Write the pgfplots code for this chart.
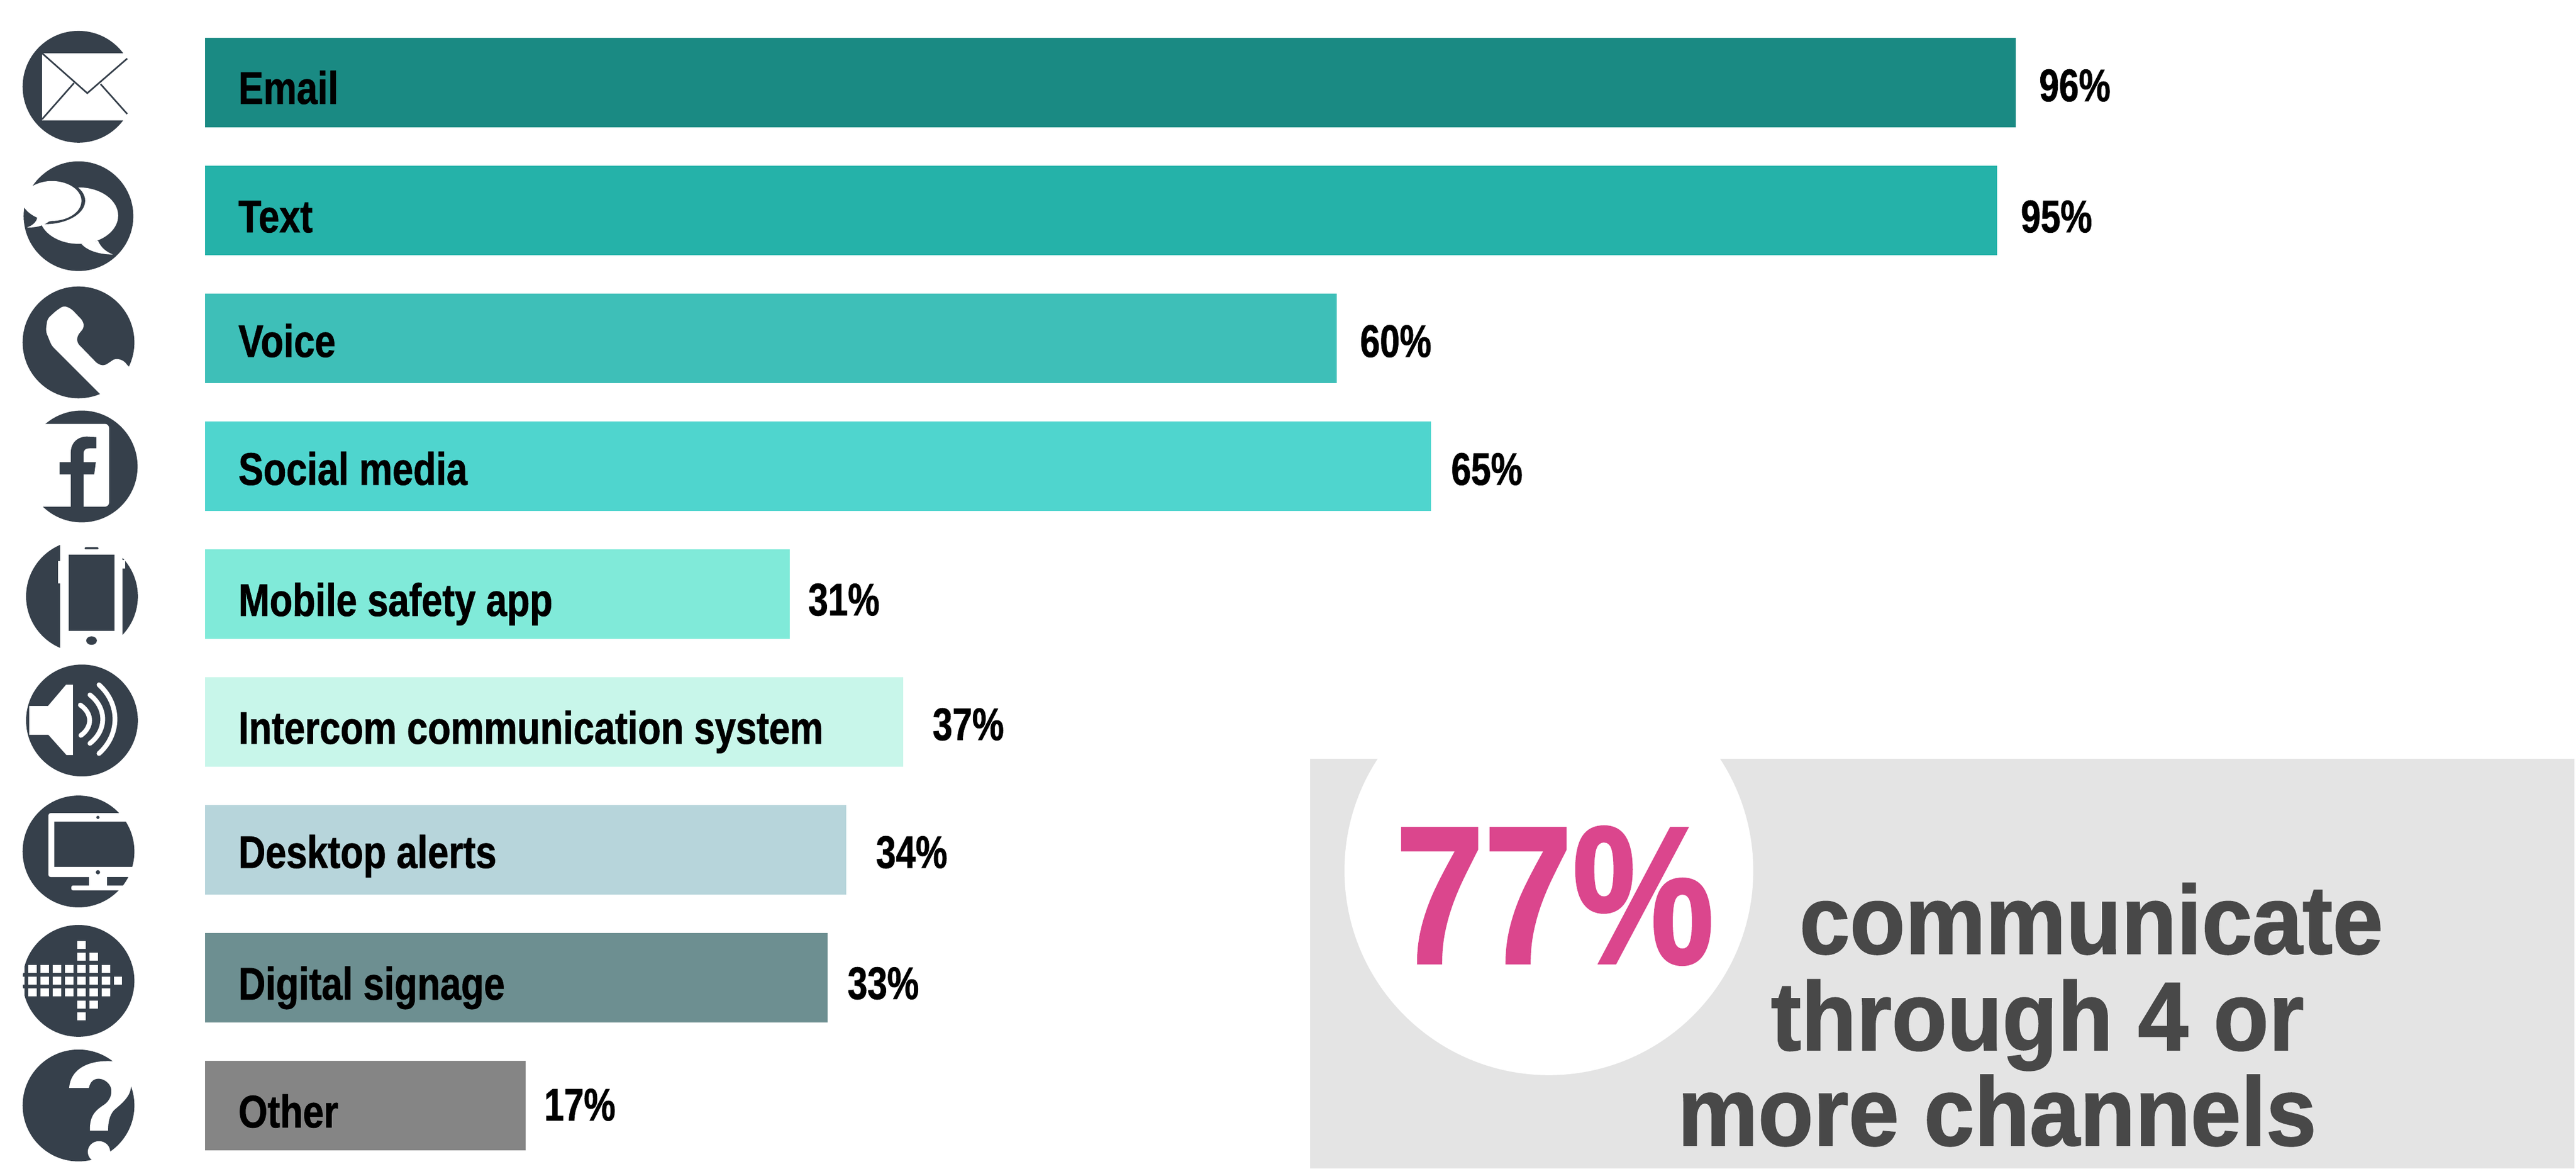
\documentclass[border=0pt]{standalone}
\usepackage{fontspec}
\usepackage{pgfplots}
\pgfplotsset{compat=1.18}
\setmainfont{Liberation Sans}
\newfontfamily\narrowfont[FakeStretch=0.82, BoldFeatures={FakeBold=1}]{Liberation Sans}
\newfontfamily\digitfont[FakeStretch=0.78, BoldFeatures={FakeBold=1}]{Liberation Sans}
\newfontfamily\panelfont[FakeStretch=0.93, BoldFeatures={FakeBold=1.2}]{Liberation Sans}
\newfontfamily\bigfont[FakeStretch=0.81, BoldFeatures={FakeBold=1.2}]{Liberation Sans}

\definecolor{cEmail}{HTML}{1A8A83}
\definecolor{cText}{HTML}{25B2A9}
\definecolor{cVoice}{HTML}{3EBFB8}
\definecolor{cSocial}{HTML}{4FD5CE}
\definecolor{cMobile}{HTML}{80EAD9}
\definecolor{cIntercom}{HTML}{C8F6EA}
\definecolor{cDesktop}{HTML}{B7D5DB}
\definecolor{cSignage}{HTML}{6D8F91}
\definecolor{cOther}{HTML}{858585}
\definecolor{icon}{HTML}{36404B}
\definecolor{panel}{HTML}{E4E4E4}
\definecolor{pink}{HTML}{DB468D}
\definecolor{panelText}{HTML}{484848}

% one bar: colour, row, value, gap to the value label, baseline below bar centre (reference pixels)
\newcommand{\catbar}[5]{%
  \addplot[xbar, fill=#1, draw=none, point meta=x,
    nodes near coords={\pgfmathprintnumber{\pgfplotspointmeta}\%},
    nodes near coords style={anchor=base west, inner sep=0pt, text=black,
      font=\digitfont\bfseries\fontsize{24.4}{28}\selectfont,
      xshift=#4*0.01cm, yshift=-#5*0.01cm}]
    coordinates {(#3,#2)};
}
% category name inside a bar: row, name, baseline below bar centre
\newcommand{\catlabel}[3]{%
  \addplot[draw=none, mark=none, point meta=explicit symbolic,
    nodes near coords,
    nodes near coords style={anchor=base west, inner sep=0pt, text=black,
      font=\narrowfont\bfseries\fontsize{24.4}{28}\selectfont,
      xshift=0.62cm, yshift=-#3*0.01cm}]
    coordinates {(0,#1) [#2]};
}

\begin{document}
\begin{tikzpicture}
\path[use as bounding box] (0,0) rectangle (48.37,21.94);

% coordinates in this scope are reference pixels, y downwards
\begin{scope}[x=0.01cm, y=-0.01cm, yshift=21.94cm]
  \fill[panel] (2461,1425) rectangle (4837,2194);
  \begin{scope}
    \clip (2461,1425) rectangle (4837,2194);
    \fill[white] (2910,1635) circle[radius=384];
  \end{scope}

  % email
  \fill[icon] (147.5,163) circle[radius=105];
  \fill[white] (79,100) rectangle (253,226);
  \draw[icon, line width=3*0.01cm] (79,100) -- (164,175) -- (239,110);
  \draw[icon, line width=3*0.01cm] (79,224) -- (139,156);
  \draw[icon, line width=3*0.01cm] (239,214) -- (189,158);

  % speech bubbles
  \fill[icon] (147.5,406) circle[radius=103];
  \fill[white] (148,405) ellipse[x radius=74, y radius=53];
  \fill[white] (184,452) .. controls (190,465) and (198,472) .. (212,478)
     .. controls (190,478) and (165,472) .. (153,458) -- cycle;
  \begin{scope}
    \clip (147.5,406) circle[radius=103];
    \fill[icon] (84,377) ellipse[x radius=76, y radius=44];
  \end{scope}
  \fill[white] (30,352) -- (60,350) .. controls (72,343) and (85,340) .. (97,340)
     .. controls (130,340) and (153,358) .. (153,377)
     .. controls (153,400) and (125,415) .. (97,415) -- (92,416)
     .. controls (80,425) and (65,428) .. (51,427)
     .. controls (60,424) and (68,418) .. (70,409)
     .. controls (60,404) and (50,398) .. (43,386) -- (30,386) -- cycle;

  % telephone
  \fill[icon] (147.5,643) circle[radius=105];
  \fill[white, rounded corners=6*0.01cm] (105,584) -- (120,574) -- (134,580) -- (156,603)
     -- (158,615) -- (145,631) -- (145,644) -- (184,684) -- (196,687) -- (217,673)
     -- (232,677) -- (242,689) -- (265,708) -- (230,778) -- (188,740) -- (97,649)
     -- (86,622) -- (89,599) -- cycle;

  % facebook
  \fill[icon] (153.5,876) circle[radius=105];
  \fill[white, rounded corners=8*0.01cm] (40,796) -- (205,796) -- (205,951.5) -- (40,951.5) -- cycle;
  \fill[icon] (133,951.5) -- (133,891) -- (112,891) -- (112,868) -- (133,868) -- (133,850)
     .. controls (133,830) and (148,819) .. (165,820) -- (181,821) -- (181,842) -- (168,842)
     .. controls (160,842) and (157,845) .. (157,853) -- (157,868) -- (180,868) -- (177,891)
     -- (157,891) -- (157,951.5) -- cycle;

  % mobile
  \fill[icon] (154,1120) circle[radius=105];
  \fill[white, rounded corners=8*0.01cm] (113,1012) rectangle (230,1228);
  \fill[white] (109,1054) rectangle (114,1096);
  \fill[white] (229,1052) rectangle (235,1068);
  \fill[icon] (129,1042) rectangle (215,1185);
  \fill[icon] (172,1203) ellipse[x radius=10, y radius=8];
  \draw[icon, line width=4*0.01cm, line cap=round] (161,1030) -- (183,1030);

  % speaker
  \fill[icon] (154,1353) circle[radius=105];
  \fill[white] (55,1326) -- (90,1326) -- (124,1286) -- (137,1286) -- (137,1418) -- (125,1418)
     -- (91,1380) -- (55,1380) -- cycle;
  \draw[white, line width=9*0.01cm, line cap=round] (151,1324) .. controls (174,1340) and (174,1365) .. (152,1381);
  \draw[white, line width=9*0.01cm, line cap=round] (169,1305) .. controls (201,1330) and (201,1371) .. (169,1396);
  \draw[white, line width=9*0.01cm, line cap=round] (186,1286) .. controls (226,1322) and (226,1379) .. (186,1415);

  % desktop
  \fill[icon] (147.5,1599) circle[radius=105];
  \fill[white, rounded corners=4*0.01cm] (91,1527) rectangle (260,1647);
  \begin{scope}
    \clip (147.5,1599) circle[radius=105];
    \fill[icon] (102,1543) rectangle (260,1628);
    \fill[icon] (201,1647) rectangle (260,1663);
  \end{scope}
  \fill[white] (167,1645) rectangle (201,1665);
  \fill[white, rounded corners=3*0.01cm] (134,1663) rectangle (235,1672);
  \fill[icon] (184,1535) circle[radius=3];
  \fill[icon] (184,1638) circle[radius=4];

  % digital signage arrow
  \fill[icon] (147.5,1842) circle[radius=105];
  \foreach \y in {1820,1842,1864}
    \foreach \x in {38,61,84,107,130,153,176,199}
      \fill[white] (\x-7.75,\y-7.5) rectangle (\x+7.75,\y+7.5);
  \fill[white] (214,1834.5) rectangle (229.5,1849.5);
  \foreach \y in {1797,1887}
    \foreach \x in {153,176}
      \fill[white] (\x-7.75,\y-7.5) rectangle (\x+7.75,\y+7.5);
  \foreach \y in {1775,1909}
    \fill[white] (153-7.75,\y-7.5) rectangle (153+7.75,\y+7.5);

  % question mark
  \fill[icon] (147.5,2076) circle[radius=105];
  \fill[white] (130,2043) .. controls (133,2005) and (170,1990) .. (213,1993) -- (270,1993)
     -- (270,2040) -- (246,2040) .. controls (246,2060) and (225,2075) .. (214,2085)
     .. controls (205,2095) and (203,2110) .. (203,2123) -- (169,2123)
     .. controls (168,2095) and (180,2085) .. (195,2075)
     .. controls (210,2065) and (210,2050) .. (209,2045)
     .. controls (205,2025) and (172,2015) .. (167,2043) -- cycle;
  \fill[white] (186,2163) ellipse[x radius=21, y radius=20];
\end{scope}

\begin{axis}[
    at={(0,0)}, anchor=south west,
    scale only axis,
    width=48.37cm, height=21.94cm,
    hide axis,
    clip=false,
    xmin=-10.87, xmax=125.69,
    ymin=-0.6458, ymax=8.4958,
    y dir=reverse,
    bar width=1.68cm,
    bar shift=0pt,
    /pgf/number format/assume math mode=true,
  ]
  \catbar{cEmail}{0}{96}{43}{35}
  \catbar{cText}{1}{95}{44}{41}
  \catbar{cVoice}{2}{60}{43}{35}
  \catbar{cSocial}{3}{65}{37}{35}
  \catbar{cMobile}{4}{31}{34}{40}
  \catbar{cIntercom}{5}{37}{55}{34}
  \catbar{cDesktop}{6}{34}{55}{34}
  \catbar{cSignage}{7}{33}{37}{40}
  \catbar{cOther}{8}{17}{34}{28}

  \catlabel{0}{Email}{40}
  \catlabel{1}{Text}{41}
  \catlabel{2}{Voice}{35}
  \catlabel{3}{Social media}{35}
  \catlabel{4}{Mobile safety app}{41}
  \catlabel{5}{Intercom communication system}{41}
  \catlabel{6}{Desktop alerts}{34}
  \catlabel{7}{Digital signage}{41}
  \catlabel{8}{Other}{41}
\end{axis}

\begin{scope}[x=0.01cm, y=-0.01cm, yshift=21.94cm]
  \node[anchor=base west, inner sep=0pt, text=pink, font=\bigfont\bfseries\fontsize{105}{110}\selectfont] at (2621,1809) {77\%};
  \begin{scope}[every node/.style={anchor=base, inner sep=0pt, text=panelText, font=\panelfont\bfseries\fontsize{52}{60}\selectfont}]
    \node at (3929,1791) {communicate};
    \node at (3828,1972) {through 4 or};
    \node at (3752,2151) {more channels};
  \end{scope}
\end{scope}
\end{tikzpicture}
\end{document}
